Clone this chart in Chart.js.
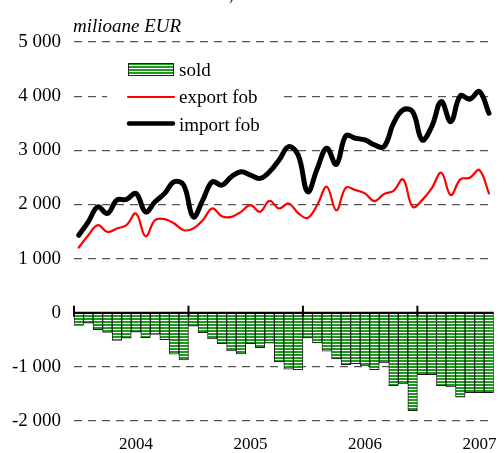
<!DOCTYPE html>
<html>
<head>
<meta charset="utf-8">
<script src="https://cdn.jsdelivr.net/npm/chart.js@4"></script>
<style>
  html, body { margin: 0; padding: 0; background: #fff; }
  #wrap { width: 504px; height: 453px; position: relative; }
</style>
</head>
<body>
<div id="wrap"><canvas id="c"></canvas></div>
<script>
// ---- data (milioane EUR, monthly, ian 2004 - aug 2007) ----
const months = [
  'ian 2004','feb 2004','mar 2004','apr 2004','mai 2004','iun 2004','iul 2004','aug 2004','sep 2004','oct 2004','noi 2004','dec 2004',
  'ian 2005','feb 2005','mar 2005','apr 2005','mai 2005','iun 2005','iul 2005','aug 2005','sep 2005','oct 2005','noi 2005','dec 2005',
  'ian 2006','feb 2006','mar 2006','apr 2006','mai 2006','iun 2006','iul 2006','aug 2006','sep 2006','oct 2006','noi 2006','dec 2006',
  'ian 2007','feb 2007','mar 2007','apr 2007','mai 2007','iun 2007','iul 2007','aug 2007'
];
const yearLabels = ['2004', '2005', '2006', '2007'];

const sold = [
  -235, -193, -315, -365, -513, -470, -359, -463, -402, -500, -765, -870,
  -250, -370, -482, -574, -705, -760, -574, -645, -562, -910, -1043, -1056,
  -467, -556, -710, -855, -960, -942, -982, -1053, -926, -1349, -1315, -1809,
  -1142, -1142, -1349, -1370, -1562, -1478, -1478, -1478
];
const exportFob = [
  1204, 1430, 1617, 1493, 1555, 1617, 1833, 1413, 1709, 1728, 1648, 1524,
  1555, 1709, 1926, 1783, 1771, 1863, 1987, 1863, 2067, 1926, 2018, 1840,
  1750, 1990, 2326, 1890, 2310, 2265, 2204, 2061, 2191, 2252, 2463, 1956,
  2080, 2296, 2585, 2172, 2463, 2493, 2635, 2204
];
const importFob = [
  1431, 1678, 1956, 1833, 2080, 2092, 2204, 1863, 2049, 2204, 2419, 2357,
  1771, 2080, 2419, 2357, 2512, 2604, 2543, 2481, 2604, 2820, 3067, 2913,
  2234, 2660, 3037, 2740, 3270, 3222, 3191, 3098, 3067, 3500, 3746, 3715,
  3191, 3437, 3900, 3530, 4006, 3944, 4085, 3685
];
const seriesNames = ['sold', 'export fob', 'import fob'];
const unitLabel = 'milioane EUR';

// ---- hatched fill for the balance bars ----
function makeStripes() {
  const p = document.createElement('canvas');
  p.width = 4; p.height = 3;
  const g = p.getContext('2d');
  g.fillStyle = '#ffffff'; g.fillRect(0, 0, 4, 3);
  g.fillStyle = '#1f9a1f'; g.fillRect(0, 0, 4, 2);
  return document.getElementById('c').getContext('2d').createPattern(p, 'repeat');
}
const stripes = makeStripes();

const FONT = "'Liberation Serif', 'Times New Roman', serif";

function fmt(v) {
  const s = String(Math.abs(v)).replace(/\B(?=(\d{3})+(?!\d))/g, ' ');
  return (v < 0 ? '-' : '') + s;
}

const decor = {
  id: 'decor',
  beforeDatasetsDraw(chart) {
    const ctx = chart.ctx;
    ctx.save();
    ctx.fillStyle = '#ffffff';
    ctx.fillRect(107, 50, 171, 90);
    ctx.restore();
  },
  afterDatasetsDraw(chart) {
    const ctx = chart.ctx;
    const x = chart.scales.x, y = chart.scales.y;
    const y0 = y.getPixelForValue(0);
    const step = x.getPixelForValue(1) - x.getPixelForValue(0);
    const left = x.getPixelForValue(0) - step / 2;
    const right = x.getPixelForValue(months.length - 1) + step / 2;
    ctx.save();
    ctx.strokeStyle = '#000';
    ctx.lineWidth = 2;
    ctx.beginPath();
    ctx.moveTo(left, y0);
    ctx.lineTo(right, y0);
    ctx.stroke();
    for (let i = 0; i < months.length; i += 12) {
      const px = x.getPixelForValue(i) - step / 2;
      ctx.beginPath();
      ctx.moveTo(px, y0 - 7);
      ctx.lineTo(px, y0 + 4);
      ctx.stroke();
    }
    ctx.restore();
  },
  afterDraw(chart) {
    const ctx = chart.ctx;
    const ds = chart.data.datasets;
    ctx.save();
    // clipped title remnant
    ctx.fillStyle = '#000';
    ctx.font = '19px ' + FONT;
    ctx.textAlign = 'left';
    ctx.textBaseline = 'alphabetic';
    ctx.fillText(',', 229, 0);
    // unit label
    ctx.font = 'italic 19px ' + FONT;
    ctx.fillText(unitLabel, 73, 32);
    // legend
    const lx = 128, lw = 46, tx = 179;
    // sold
    ctx.fillStyle = stripes;
    ctx.fillRect(lx, 63, lw, 13);
    ctx.strokeStyle = '#222';
    ctx.lineWidth = 1;
    ctx.strokeRect(lx + 0.5, 63.5, lw - 1, 12);
    // export
    ctx.lineCap = 'round';
    ctx.strokeStyle = ds[1].borderColor;
    ctx.lineWidth = 2.2;
    ctx.beginPath(); ctx.moveTo(lx, 97); ctx.lineTo(lx + lw, 97); ctx.stroke();
    // import
    ctx.strokeStyle = ds[2].borderColor;
    ctx.lineWidth = 4.5;
    ctx.beginPath(); ctx.moveTo(lx + 1, 123.5); ctx.lineTo(lx + lw - 1, 123.5); ctx.stroke();
    ctx.fillStyle = '#000';
    ctx.font = '19px ' + FONT;
    ctx.fillText(ds[0].label, tx, 76);
    ctx.fillText(ds[1].label, tx, 103);
    ctx.fillText(ds[2].label, tx, 130.5);
    ctx.restore();
  }
};

new Chart(document.getElementById('c'), {
  type: 'bar',
  data: {
    labels: months,
    datasets: [
      {
        type: 'bar',
        label: seriesNames[0],
        data: sold,
        backgroundColor: stripes,
        borderColor: '#1a1a1a',
        borderWidth: 1,
        borderSkipped: false,
        barPercentage: 1,
        categoryPercentage: 1,
        order: 3
      },
      {
        type: 'line',
        label: seriesNames[1],
        data: exportFob,
        borderColor: '#ff0000',
        borderWidth: 2.2,
        pointRadius: 0,
        tension: 0.4,
        fill: false,
        borderCapStyle: 'round',
        borderJoinStyle: 'round',
        order: 2
      },
      {
        type: 'line',
        label: seriesNames[2],
        data: importFob,
        borderColor: '#000000',
        borderWidth: 5,
        pointRadius: 0,
        tension: 0.4,
        fill: false,
        borderCapStyle: 'round',
        borderJoinStyle: 'round',
        order: 1
      }
    ]
  },
  options: {
    responsive: true,
    maintainAspectRatio: false,
    animation: false,
    events: [],
    layout: { padding: { top: 42, right: 6, bottom: 0, left: 0 } },
    plugins: {
      legend: { display: false },
      tooltip: { enabled: false },
      title: { display: false }
    },
    scales: {
      x: {
        type: 'category',
        offset: true,
        afterFit: (s) => { s.height = 32; },
        grid: { display: false, drawTicks: false },
        border: { display: false },
        ticks: {
          autoSkip: false,
          maxRotation: 0,
          minRotation: 0,
          padding: 15,
          color: '#000',
          font: { family: FONT, size: 17, lineHeight: 1 },
          callback: (v, i) => (i % 12 === 6 ? yearLabels[Math.floor(i / 12)] : '')
        }
      },
      y: {
        min: -2000,
        max: 5000,
        afterFit: (s) => { s.width = 74; },
        border: { display: false, dash: [8, 6] },
        grid: {
          drawTicks: false,
          color: (c) => (c.tick && c.tick.value === 0 ? 'rgba(0,0,0,0)' : '#555'),
          lineWidth: 1.2
        },
        ticks: {
          stepSize: 1000,
          padding: 13,
          color: '#000',
          font: { family: FONT, size: 19 },
          callback: (v) => fmt(v)
        }
      }
    }
  },
  plugins: [decor]
});
</script>
</body>
</html>
